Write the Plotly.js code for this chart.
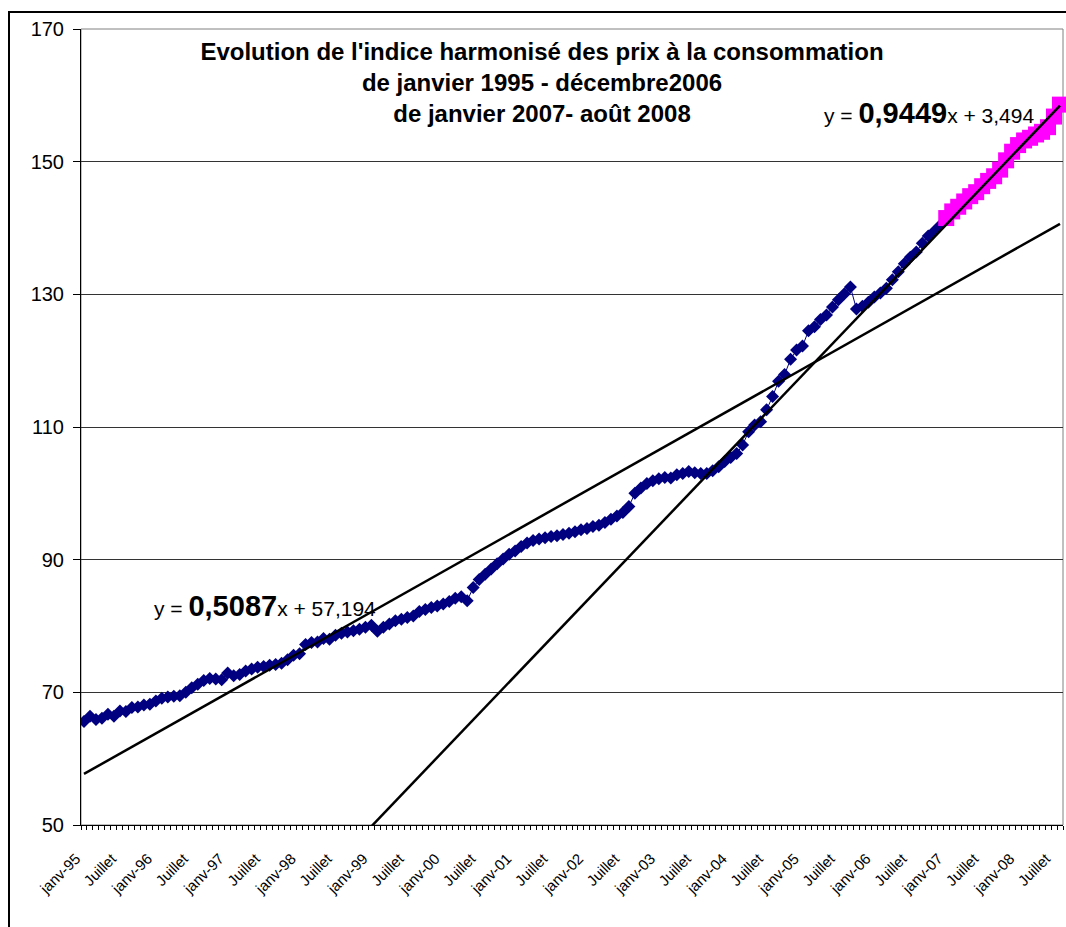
<!DOCTYPE html>
<html>
<head>
<meta charset="utf-8">
<script src="https://cdn.plot.ly/plotly-3.0.1.min.js"></script>
<style>
  html, body { margin: 0; padding: 0; background: #fff; overflow: hidden; }
  #wrap { position: relative; width: 1066px; height: 927px; overflow: hidden; }
  #chart { position: absolute; left: 0; top: 0; width: 1066px; height: 927px; }
  #frame { position: absolute; left: 8px; top: 11px; width: 1080px; height: 940px;
           border: 2px solid #000; box-sizing: border-box; pointer-events: none; }
</style>
</head>
<body>
<div id="wrap">
  <div id="chart"></div>
  <div id="frame"></div>
</div>
<script>
// Monthly harmonised consumer price index
const ipc1995 = [65.6, 66.4, 65.9, 66.1, 66.7, 66.4, 67.2, 67.1, 67.7, 67.8, 68.1, 68.2];
const ipc1996 = [68.7, 69.1, 69.3, 69.4, 69.5, 70.0, 70.7, 71.2, 71.8, 72.1, 72.0, 71.9];
const ipc1997 = [72.9, 72.5, 72.7, 73.2, 73.5, 73.8, 73.9, 74.1, 74.2, 74.4, 74.9, 75.6];
const ipc1998 = [75.8, 77.2, 77.5, 77.6, 78.1, 78.0, 78.6, 78.9, 79.1, 79.3, 79.5, 79.8];
const ipc1999 = [80.1, 79.2, 79.8, 80.3, 80.8, 81.0, 81.3, 81.5, 82.2, 82.5, 82.8, 83.0];
const ipc2000 = [83.3, 83.7, 84.2, 84.4, 83.8, 85.8, 87.0, 87.8, 88.6, 89.4, 90.1, 90.8];
const ipc2001 = [91.3, 92.0, 92.5, 92.9, 93.1, 93.3, 93.5, 93.6, 93.8, 94.0, 94.2, 94.5];
const ipc2002 = [94.7, 95.0, 95.2, 95.6, 96.1, 96.6, 97.1, 98.0, 100.0, 100.8, 101.5, 101.9];
const ipc2003 = [102.2, 102.4, 102.3, 102.8, 103.0, 103.3, 103.1, 103.0, 103.0, 103.4, 104.0, 104.8];
const ipc2004 = [105.4, 106.0, 107.3, 109.3, 110.3, 110.8, 112.6, 114.6, 116.9, 117.9, 120.2, 121.6];
const ipc2005 = [122.2, 124.5, 125.1, 126.2, 126.9, 128.1, 129.2, 130.1, 131.1, 127.8, 128.2, 128.8];
const ipc2006 = [129.6, 130.2, 130.9, 132.2, 133.4, 134.6, 135.6, 136.4, 137.7, 138.8, 139.5, 140.4];
const ipc2007_2008 = [141.5, 142.5, 143.2, 144.0, 144.8, 145.4, 146.3, 147.1, 147.8, 148.8,
                      150.2, 151.5, 152.5, 153.2, 153.6, 154.1, 154.5, 155.2, 156.8, 158.6];

// Trend line coefficients (as printed on the chart)
const trend1 = { slope: 0.5087, intercept: 57.194 };
const trend2 = { slope: 0.9449, intercept: 3.494 };

// Axis tick labels (one every 6 months)
const tickLabels = ['janv-95','Juillet','janv-96','Juillet','janv-97','Juillet','janv-98','Juillet',
  'janv-99','Juillet','janv-00','Juillet','janv-01','Juillet','janv-02','Juillet','janv-03','Juillet',
  'janv-04','Juillet','janv-05','Juillet','janv-06','Juillet','janv-07','Juillet','janv-08','Juillet'];
const yTicks = [50, 70, 90, 110, 130, 150, 170];

const serie1 = [].concat(ipc1995, ipc1996, ipc1997, ipc1998, ipc1999, ipc2000,
                         ipc2001, ipc2002, ipc2003, ipc2004, ipc2005, ipc2006);
const serie2 = ipc2007_2008;
const nTotal = serie1.length + serie2.length;

const x1 = serie1.map((_, i) => i + 1);
const x2 = serie2.map((_, i) => serie1.length + i + 1);
const tickvals = tickLabels.map((_, k) => 1 + 6 * k);

const tx = [1, nTotal];
const FONT = 'Arial, "Liberation Sans", sans-serif';

const traces = [
  { x: x1, y: serie1, mode: 'lines+markers',
    line: { color: '#000080', width: 1 },
    marker: { symbol: 'diamond', size: 10, color: '#000080' } },
  { x: x2, y: serie2, mode: 'lines+markers', cliponaxis: false,
    line: { color: '#FF00FF', width: 1 },
    marker: { symbol: 'square', size: 16, color: '#FF00FF' } },
  { x: tx, y: tx.map(v => trend1.slope * v + trend1.intercept), mode: 'lines',
    line: { color: '#000', width: 2.5 }, hoverinfo: 'skip' },
  { x: tx, y: tx.map(v => trend2.slope * v + trend2.intercept), mode: 'lines',
    line: { color: '#000', width: 2.5 }, hoverinfo: 'skip' }
];

const eqText = t => 'y = <b><span style="font-size:29px">' + String(t.slope).replace('.', ',') +
                    '</span></b>x + ' + String(t.intercept).replace('.', ',');

const layout = {
  width: 1066, height: 927,
  margin: { l: 81, r: 3, t: 29, b: 102 },
  paper_bgcolor: '#fff', plot_bgcolor: '#fff',
  showlegend: false,
  font: { family: FONT, color: '#000' },
  title: {
    text: '<b>Evolution de l\'indice harmonisé des prix à la consommation<br>de janvier 1995 - décembre2006<br>de janvier 2007- août 2008</b>',
    font: { family: FONT, size: 24, color: '#000' },
    xref: 'container', yref: 'container',
    x: 542 / 1066, xanchor: 'center',
    y: 1 - 60 / 927, yanchor: 'top'
  },
  xaxis: {
    range: [0.5, nTotal + 0.5],
    showgrid: false, zeroline: false,
    showline: true, linecolor: '#000', linewidth: 1,
    tickmode: 'array', tickvals: tickvals, ticktext: tickLabels,
    ticks: '', tickangle: -45, autotickangles: [45],
    ticklabelstandoff: 18, ticklabelshift: -8,
    tickfont: { family: FONT, size: 15, color: '#000' },
    minor: { tickmode: 'linear', tick0: 0.5, dtick: 1, ticks: 'outside',
             ticklen: 4, tickcolor: '#000', tickwidth: 1, showgrid: false }
  },
  yaxis: {
    range: [50, 170],
    tickmode: 'array', tickvals: yTicks,
    showgrid: true, gridcolor: '#333', gridwidth: 1,
    zeroline: false,
    showline: true, linecolor: '#000', linewidth: 1,
    ticks: 'outside', ticklen: 7, tickcolor: '#000',
    ticklabelstandoff: 5,
    tickfont: { family: FONT, size: 20, color: '#000' }
  },
  shapes: [
    { type: 'rect', xref: 'paper', yref: 'paper', x0: 0, x1: 1, y0: 0, y1: 1,
      line: { color: '#808080', width: 1 }, layer: 'below' }
  ],
  annotations: [
    { x: 12.3, y: 83.0, xref: 'x', yref: 'y', xanchor: 'left', yanchor: 'middle',
      showarrow: false, font: { family: FONT, size: 21, color: '#000' },
      text: eqText(trend1) },
    { x: 124.2, y: 157.4, xref: 'x', yref: 'y', xanchor: 'left', yanchor: 'middle',
      showarrow: false, font: { family: FONT, size: 21, color: '#000' },
      text: eqText(trend2) }
  ]
};

Plotly.newPlot('chart', traces, layout, { displayModeBar: false, staticPlot: true });
</script>
</body>
</html>
